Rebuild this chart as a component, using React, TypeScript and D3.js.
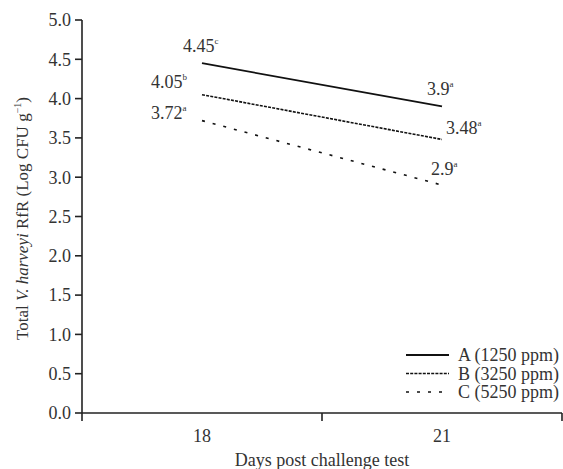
import React from "react";
import * as d3 from "d3";

const days = ["18", "21"];
const seriesNames = ["A (1250 ppm)", "B (3250 ppm)", "C (5250 ppm)"];
const seriesA = [4.45, 3.9];
const seriesB = [4.05, 3.48];
const seriesC = [3.72, 2.9];
const lettersA = ["c", "a"];
const lettersB = ["b", "a"];
const lettersC = ["a", "a"];
const valueLabelsA = ["4.45", "3.9"];
const valueLabelsB = ["4.05", "3.48"];
const valueLabelsC = ["3.72", "2.9"];
const yTicks = [0, 0.5, 1, 1.5, 2, 2.5, 3, 3.5, 4, 4.5, 5];

const W = 563;
const H = 469;
const left = 82;
const right = 562;
const top = 20;
const bottom = 413;
const FONT = "'Liberation Serif', 'Times New Roman', serif";

const dashes = [null, "3,1.2", "3,8"];
// label offsets relative to point [dx, dy] for each series and day
const labelOffsets = [
  [[-19, -11], [-15, -11]],
  [[-51, -7], [4, -5]],
  [[-51, -2], [-11, -10]],
];

export default function App() {
  const x = d3.scalePoint<string>().domain(days).range([left, right]).padding(0.5);
  const band = d3.scaleBand<string>().domain(days).range([left, right]);
  const y = d3.scaleLinear().domain([0, 5]).range([bottom, top]);
  const line = d3
    .line<number>()
    .x((_, i) => x(days[i]) as number)
    .y((d) => y(d));

  const all = [seriesA, seriesB, seriesC];
  const letters = [lettersA, lettersB, lettersC];
  const vlabels = [valueLabelsA, valueLabelsB, valueLabelsC];

  const xTickPos = [left, ...days.slice(1).map((d) => band(d) as number), right];

  return (
    <svg width={W} height={H} style={{ position: "absolute", left: 0, top: 0 }} fontFamily={FONT}>
      <rect width={W} height={H} fill="#fff" />
      {/* Y axis */}
      <line x1={left} x2={left} y1={top} y2={bottom} stroke="#222" strokeWidth={1.6} />
      {yTicks.map((t) => (
        <g key={t}>
          <line x1={left - 7} x2={left} y1={y(t)} y2={y(t)} stroke="#222" strokeWidth={1.6} />
          <text x={left - 11} y={y(t)} dy="0.35em" textAnchor="end" fontSize={18} fill="#333">
            {t.toFixed(1)}
          </text>
        </g>
      ))}
      {/* X axis */}
      <line x1={left} x2={right} y1={bottom} y2={bottom} stroke="#222" strokeWidth={1.6} />
      {xTickPos.map((p, i) => (
        <line key={i} x1={p} x2={p} y1={bottom} y2={bottom + 8} stroke="#222" strokeWidth={1.6} />
      ))}
      {days.map((d) => (
        <text key={d} x={x(d)} y={442} textAnchor="middle" fontSize={18} fill="#333">
          {d}
        </text>
      ))}
      <text x={(left + right) / 2} y={466} textAnchor="middle" fontSize={18} fill="#333">
        Days post challenge test
      </text>
      <text
        transform={`translate(28,${(top + bottom) / 2 + 2}) rotate(-90)`}
        textAnchor="middle"
        fontSize={17}
        fill="#333"
      >
        Total <tspan fontStyle="italic">V. harveyi</tspan> RfR (Log CFU g
        <tspan dy={-7} fontSize={10}>−1</tspan>
        <tspan dy={7}>)</tspan>
      </text>
      {/* Lines */}
      {all.map((s, i) => (
        <path
          key={i}
          d={line(s) || ""}
          fill="none"
          stroke="#111"
          strokeWidth={i === 0 ? 1.8 : 1.6}
          strokeDasharray={dashes[i] || undefined}
        />
      ))}
      {/* Value labels */}
      {all.map((s, i) =>
        s.map((v, j) => (
          <text
            key={`${i}-${j}`}
            x={(x(days[j]) as number) + labelOffsets[i][j][0]}
            y={y(v) + labelOffsets[i][j][1]}
            fontSize={18}
            fill="#333"
          >
            {vlabels[i][j]}
            <tspan dy={-8} fontSize={9}>
              {letters[i][j]}
            </tspan>
          </text>
        ))
      )}
      {/* Legend */}
      {seriesNames.map((n, i) => (
        <g key={n} transform={`translate(406,${355 + i * 18.5})`}>
          <line
            x1={0}
            x2={43}
            y1={0}
            y2={0}
            stroke="#111"
            strokeWidth={i === 0 ? 1.8 : 1.6}
            strokeDasharray={dashes[i] || undefined}
          />
          <text x={52} y={0} dy="0.35em" fontSize={18} fill="#333">
            {n}
          </text>
        </g>
      ))}
    </svg>
  );
}
